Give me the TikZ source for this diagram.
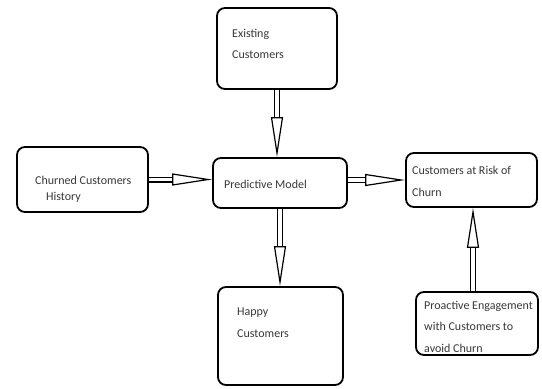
\documentclass[tikz,border=0pt]{standalone}
\usepackage{fontspec}
\setmainfont{Carlito}
\usetikzlibrary{arrows.meta}
\begin{document}
\begin{tikzpicture}[x=1pt,y=-1pt,
  box/.style={draw, line width=1.8pt, rounded corners=8pt, fill=white},
  lbl/.style={anchor=base west, inner sep=0pt, align=left, text=black!78,
    font=\fontsize{12}{21}\selectfont},
  flow/.style={double, double distance=3.6pt, line width=1.2pt,
    -{Triangle[open, length=40pt, width=12pt, line width=1.2pt]}}]
\useasboundingbox (0,0) rectangle (542,389);
% boxes
\node[box, minimum width=120pt, minimum height=81pt] (ex) at (277,48.5) {};
\node[box, minimum width=131pt, minimum height=65pt] (ch) at (82.5,179.5) {};
\node[box, minimum width=134pt, minimum height=50pt] (pm) at (280,183) {};
\node[box, minimum width=131pt, minimum height=54pt] (rk) at (471.5,180) {};
\node[box, minimum width=125pt, minimum height=98pt] (hp) at (280.5,336) {};
\node[box, minimum width=122pt, minimum height=63pt] (pa) at (477,323.5) {};
% labels (base = baseline of last line)
\node[lbl] (exl) at (232,58) {Existing\\Customers};
\node[lbl, font=\fontsize{12}{16}\selectfont] (chl) at (35,200) {Churned Customers\\\hspace*{11pt}History};
\node[lbl] (pml) at (224,188) {Predictive Model};
\node[lbl, font=\fontsize{12}{22}\selectfont] (rkl) at (412,196) {Customers at Risk of\\Churn};
\node[lbl, font=\fontsize{12}{22}\selectfont] (hpl) at (237,337) {Happy\\Customers};
\node[lbl, font=\fontsize{12}{21.5}\selectfont] (pal) at (424,352) {Proactive Engagement\\with Customers to\\avoid Churn};
% connectors
\draw[flow] (ex.south) -- (ex.south |- pm.north);
\draw[flow] (ch.east) -- (ch.east -| pm.west);
\draw[flow] ([yshift=3pt]pm.east) -- ([yshift=3pt]pm.east -| rk.west);
\draw[flow] (pm.south) -- (pm.south |- hp.north);
\draw[flow] ([xshift=-4pt]pa.north) -- ([xshift=-4pt]pa.north |- rk.south);
\end{tikzpicture}
\end{document}
